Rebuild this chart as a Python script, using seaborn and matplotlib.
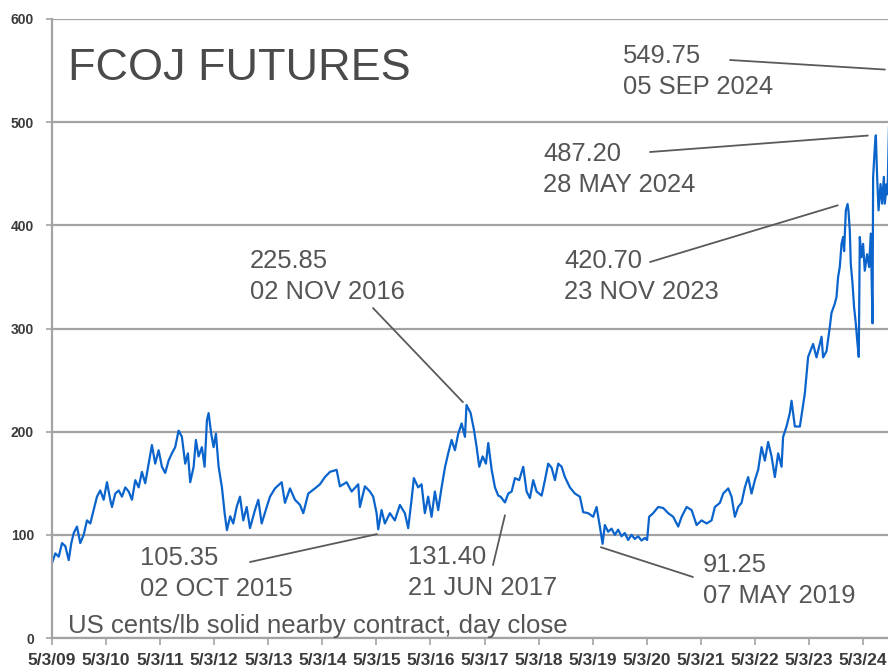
import numpy as np
import pandas as pd
import matplotlib
matplotlib.use("Agg")
import matplotlib.pyplot as plt
import seaborn as sns

# ---- data (decimal years, US cents/lb) ----
years = [
    2009.173, 2009.234, 2009.297, 2009.358, 2009.419, 2009.482, 2009.530, 2009.574, 2009.635, 2009.696,
    2009.759, 2009.820, 2009.881, 2009.944, 2010.005, 2010.066, 2010.129, 2010.190, 2010.251, 2010.283,
    2010.344, 2010.407, 2010.468, 2010.529, 2010.592, 2010.653, 2010.714, 2010.777, 2010.837, 2010.898,
    2010.961, 2011.022, 2011.083, 2011.146, 2011.207, 2011.268, 2011.331, 2011.392, 2011.453, 2011.516,
    2011.577, 2011.638, 2011.688, 2011.731, 2011.794, 2011.836, 2011.886, 2011.947, 2011.997, 2012.040,
    2012.071, 2012.119, 2012.163, 2012.206, 2012.256, 2012.317, 2012.367, 2012.409, 2012.470,
    2012.526, 2012.589, 2012.650, 2012.711, 2012.774, 2012.835, 2012.927,
    2012.988, 2013.051, 2013.144, 2013.205, 2013.297, 2013.421, 2013.482, 2013.575, 2013.667, 2013.760,
    2013.821, 2013.913, 2014.037, 2014.129, 2014.222, 2014.314, 2014.438, 2014.499, 2014.623, 2014.716,
    2014.838, 2014.869, 2014.962, 2015.054, 2015.115, 2015.178, 2015.208, 2015.270, 2015.331, 2015.424,
    2015.516, 2015.609, 2015.701, 2015.763, 2015.825, 2015.868, 2015.947, 2016.010, 2016.071, 2016.132,
    2016.195, 2016.256, 2016.317, 2016.380, 2016.441, 2016.502, 2016.565, 2016.626, 2016.687, 2016.750,
    2016.811, 2016.840, 2016.916, 2016.977, 2017.027, 2017.075, 2017.138, 2017.199, 2017.242, 2017.305,
    2017.366, 2017.427, 2017.470, 2017.551, 2017.612, 2017.675, 2017.736, 2017.815, 2017.889, 2017.952,
    2018.013, 2018.074, 2018.137, 2018.230, 2018.291, 2018.352, 2018.415, 2018.476, 2018.537, 2018.600,
    2018.661, 2018.753, 2018.846, 2018.938, 2018.999, 2019.091, 2019.184, 2019.247, 2019.308, 2019.358,
    2019.400, 2019.461, 2019.524, 2019.585, 2019.646, 2019.709, 2019.770, 2019.831, 2019.894, 2019.955,
    2020.016, 2020.079, 2020.140, 2020.182, 2020.219, 2020.294, 2020.386, 2020.479, 2020.571, 2020.663,
    2020.756, 2020.819, 2020.911, 2021.003, 2021.096, 2021.188, 2021.281, 2021.373, 2021.434, 2021.527,
    2021.588, 2021.681, 2021.743, 2021.804, 2021.865, 2021.928, 2021.989, 2022.050, 2022.113, 2022.174,
    2022.235, 2022.298, 2022.359, 2022.420, 2022.483, 2022.544, 2022.605, 2022.668, 2022.697, 2022.760,
    2022.821, 2022.853, 2022.914, 2023.007, 2023.099,
    2023.160, 2023.252, 2023.315, 2023.408, 2023.437, 2023.500, 2023.561, 2023.592, 2023.653, 2023.685,
    2023.715, 2023.746, 2023.778, 2023.807, 2023.826, 2023.858, 2023.890, 2023.907, 2023.931, 2023.949,
    2023.981, 2024.010, 2024.042, 2024.073, 2024.097, 2024.116, 2024.147, 2024.177, 2024.208, 2024.251,
    2024.288, 2024.319, 2024.351, 2024.362, 2024.394, 2024.412, 2024.436, 2024.462, 2024.499, 2024.528,
    2024.560, 2024.578, 2024.612, 2024.628, 2024.677,
]
prices = [
    72.6, 82, 78.8, 92, 89, 75.5, 92, 101.6, 108, 92,
    100, 114, 111, 124, 137, 143, 134, 151, 134, 127,
    140, 143, 137, 146, 142, 134, 153, 146, 161, 150,
    169, 187, 169, 182, 166, 160, 172, 179, 185, 201,
    195, 169, 179, 151, 166, 192, 176, 185, 166, 211,
    218, 198, 185, 198, 166, 146, 121, 104.6, 118,
    111, 127, 137, 114, 127, 106.5, 124,
    134, 111, 127, 137, 145, 151, 131, 145, 134, 129,
    121, 140, 145, 149, 156, 161, 163, 147, 151, 142,
    149, 127, 147, 142, 137, 121, 105.35, 124, 111, 121,
    114, 129, 121, 106.5, 134, 155, 146, 149, 121, 137,
    117.5, 142, 124, 146, 165, 179, 192, 182, 198, 208,
    195, 225.85, 218, 202, 185, 166, 176, 169, 189, 163,
    146, 138, 137, 131.40, 140, 142, 155, 153, 166, 142,
    135.6, 153, 142, 138, 153, 169, 165, 153, 169, 166,
    156, 146, 140, 137, 122, 121, 117.5, 127, 108, 91.25,
    109.5, 103, 106, 100, 105, 98.6, 101.7, 95, 100, 96,
    98.6, 94.5, 97, 95, 117.5, 121, 127, 126, 121, 117.5,
    108, 117.5, 127, 124, 109.5, 114, 111, 114, 127, 131,
    140, 145, 137, 117.5, 127, 131, 146, 156, 140, 153,
    163, 185, 172, 190, 176, 156, 179, 166, 195, 205,
    218, 230, 205, 205, 237,
    272.5, 285, 272, 292, 272, 278, 301.5, 315, 324, 330.6,
    350, 359.6, 382, 388.7, 375, 414.5, 420.70, 414, 395, 363,
    344, 321, 305, 285.7, 272.5, 388.7, 369, 382, 356, 372,
    359.6, 392, 305, 447, 476, 487.20, 447, 414.5, 440, 421,
    447, 421, 440, 430, 549.75,
]

tick_labels = ["5/3/09", "5/3/10", "5/3/11", "5/3/12", "5/3/13", "5/3/14", "5/3/15", "5/3/16",
               "5/3/17", "5/3/18", "5/3/19", "5/3/20", "5/3/21", "5/3/22", "5/3/23", "5/3/24"]
y_ticks = [0, 100, 200, 300, 400, 500, 600]

# annotation texts and where their leader lines end (decimal year, value)
ann_values = ["225.85", "105.35", "131.40", "91.25", "420.70", "487.20", "549.75"]
ann_dates = ["02 NOV 2016", "02 OCT 2015", "21 JUN 2017", "07 MAY 2019",
             "23 NOV 2023", "28 MAY 2024", "05 SEP 2024"]
ann_end_year = [2016.774, 2015.184, 2017.551, 2019.326, 2023.709, 2024.264, 2024.579]
ann_end_val = [228.6, 100.7, 119.0, 88.0, 419.4, 487.0, 551.0]
# layout (figure pixels from top-left): text left / first baseline, leader line start
ann_text_px = [(250, 268), (140, 565), (408, 564), (703, 572), (564, 268), (543, 161), (623, 63)]
ann_line_start_px = [(373, 308), (250, 562), (493, 565), (693, 577), (650, 262), (650, 152), (730, 60)]


def to_date(y):
    yr = int(np.floor(y))
    start = pd.Timestamp(year=yr, month=1, day=1)
    end = pd.Timestamp(year=yr + 1, month=1, day=1)
    return start + (y - yr) * (end - start)


df = pd.DataFrame({"date": [to_date(y) for y in years], "price": prices})

W, H = 888, 668
sns.set_style("white")
plt.rcParams["font.family"] = ["Liberation Sans", "DejaVu Sans"]

fig = plt.figure(figsize=(W / 100, H / 100), dpi=100)
ax = fig.add_axes([52 / W, (H - 638) / H, 1 - 52 / W, (638 - 19) / H])

GRID = "#a3a3a3"
TXT = "#555555"
BLUE = "#0a64cc"

sns.lineplot(data=df, x="date", y="price", ax=ax, color=BLUE, linewidth=1.6,
             estimator=None, sort=True)

tick_dates = pd.date_range("2009-03-05", periods=len(tick_labels), freq=pd.DateOffset(years=1))
ax.set_xticks(tick_dates)
ax.set_xticklabels(tick_labels)
ax.set_xlim(pd.Timestamp("2009-03-05"), pd.Timestamp("2024-08-21"))
ax.set_ylim(0, 600)
ax.set_yticks(y_ticks)
ax.set_yticklabels([str(v) for v in y_ticks])
ax.set_xlabel("")
ax.set_ylabel("")

ax.set_axisbelow(True)
ax.yaxis.grid(True, color=GRID, linewidth=1.6)
ax.xaxis.grid(False)
for s in ["top", "right"]:
    ax.spines[s].set_visible(False)
for s in ["left", "bottom"]:
    ax.spines[s].set_color(GRID)
    ax.spines[s].set_linewidth(1.6)

ax.tick_params(axis="x", direction="out", length=5, width=1.2, color=GRID, pad=6,
               labelsize=12.5, labelcolor="#3a3a3a", bottom=True)
ax.tick_params(axis="y", direction="out", length=4, width=1.2, color=GRID, pad=9,
               labelsize=10, labelcolor="#3a3a3a", left=True)
for lab in ax.get_xticklabels() + ax.get_yticklabels():
    lab.set_fontweight("bold")


def fx(px):
    return px / W


def fy(py):
    return 1 - py / H


# title and subtitle
fig.text(fx(68), fy(80), "FCOJ FUTURES", fontsize=32.4, color="#4a4a4a", va="baseline", ha="left")
fig.text(fx(68), fy(633), "US cents/lb solid nearby contract, day close", fontsize=18.5,
         color=TXT, va="baseline", ha="left")

# annotations
for v, d, ey, ev, (tx, ty), (lx, ly) in zip(ann_values, ann_dates, ann_end_year, ann_end_val,
                                            ann_text_px, ann_line_start_px):
    fig.text(fx(tx), fy(ty), v, fontsize=18.4, color=TXT, va="baseline", ha="left")
    fig.text(fx(tx), fy(ty + 31), d, fontsize=18.4, color=TXT, va="baseline", ha="left")
    ax.annotate("", xy=(matplotlib.dates.date2num(to_date(ey)), ev), xycoords="data",
                xytext=(fx(lx), fy(ly)), textcoords="figure fraction",
                arrowprops=dict(arrowstyle="-", color="#5a5a5a", lw=1.3,
                                shrinkA=0, shrinkB=0),
                annotation_clip=False)

fig.savefig("out.png", dpi=100)
